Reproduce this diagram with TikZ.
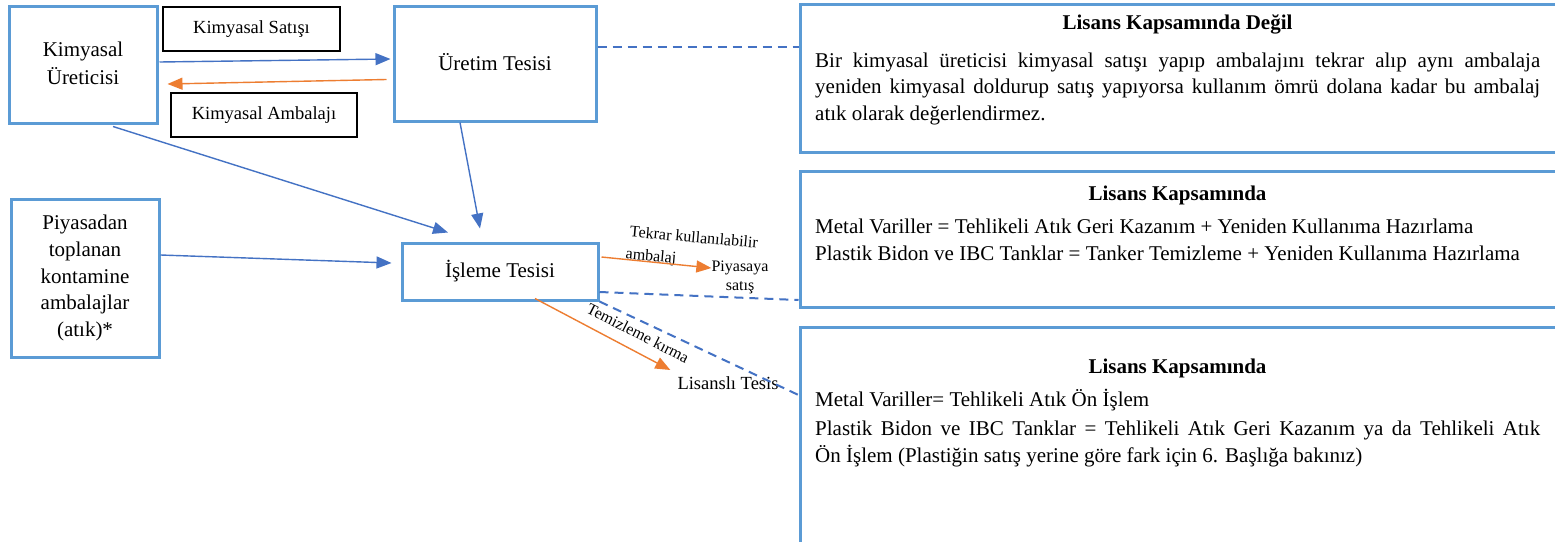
\documentclass[tikz,border=0pt]{standalone}
\usepackage{fontspec}
\setmainfont{Liberation Serif}
\usetikzlibrary{arrows.meta}
\definecolor{boxblue}{HTML}{5B9BD5}
\definecolor{arrblue}{HTML}{4472C4}
\definecolor{arrorange}{HTML}{ED7D31}
\newcommand{\bigfnt}{\fontsize{21}{26.7}\selectfont}
\newcommand{\labfnt}{\fontsize{18.5}{22}\selectfont}
\newcommand{\smfnt}{\fontsize{16}{19}\selectfont}
\newcommand{\rfnt}{\fontsize{21}{26.5}\selectfont}
\newcommand{\jline}[1]{\makebox[725pt][s]{#1}}
\begin{document}
\begin{tikzpicture}[x=1pt,y=-1pt,
  bluebox/.style={draw=boxblue, line width=3pt, inner sep=0pt, align=center, font=\bigfnt},
  labelbox/.style={draw=black, line width=1.2pt, inner sep=0pt, font=\labfnt},
  rbox/.style={draw=boxblue, line width=3pt, inner sep=0pt},
  barrow/.style={draw=arrblue, line width=1.4pt, -{Triangle[length=15pt,width=12pt]}},
  oarrow/.style={draw=arrorange, line width=1.4pt, -{Triangle[length=15pt,width=12pt]}},
  dline/.style={draw=arrblue, line width=2pt, dash pattern=on 9pt off 6pt},
  smalltxt/.style={font=\smfnt, inner sep=0pt, align=center},
  titletxt/.style={font=\rfnt\bfseries, inner sep=0pt, anchor=base},
  bodytxt/.style={font=\rfnt, inner sep=0pt, anchor=base west}]
\path[use as bounding box] (0,0) rectangle (1555,541);
\clip (0,0) rectangle (1555,541);
\fill[white] (0,0) rectangle (1555,541);

% left nodes
\node[bluebox, minimum width=148pt, minimum height=117pt] (A) at (83,64.5) {\raisebox{3pt}{\shortstack{Kimyasal\\[3.5pt]Üreticisi}}};
\node[bluebox, minimum width=202pt, minimum height=115pt] (B) at (495,63.5) {\raisebox{3pt}{Üretim Tesisi}};
\node[bluebox, minimum width=148pt, minimum height=158pt] (C) at (85,278) {Piyasadan\\toplanan\\kontamine\\ambalajlar\\(atık)*};
\node[bluebox, minimum width=196pt, minimum height=57pt] (D) at (500,271.5) {\raisebox{3pt}{İşleme Tesisi}};

\node[labelbox, minimum width=177pt, minimum height=44pt] (S) at (251.5,29) {Kimyasal Satışı};
\node[labelbox, minimum width=186pt, minimum height=44pt] (M) at (264,115) {Kimyasal Ambalajı};

% right boxes
\node[rbox, minimum width=760pt, minimum height=148pt] (R1) at (1180,78) {};
\node[rbox, minimum width=760pt, minimum height=136pt] (R2) at (1180,239) {};
\node[rbox, minimum width=760pt, minimum height=253pt] (R3) at (1180,453.5) {};

\node[titletxt] (T1) at (1177.5,29) {Lisans Kapsamında Değil};
\node[bodytxt] (L11) at (815,67) {\jline{Bir kimyasal üreticisi kimyasal satışı yapıp ambalajını tekrar alıp aynı ambalaja}};
\node[bodytxt] (L12) at (815,93.5) {\jline{yeniden kimyasal doldurup satış yapıyorsa kullanım ömrü dolana kadar bu ambalaj}};
\node[bodytxt] (L13) at (815,120) {atık olarak değerlendirmez.};

\node[titletxt] (T2) at (1177.5,200) {Lisans Kapsamında};
\node[bodytxt] (L21) at (815,233) {Metal Variller = Tehlikeli Atık Geri Kazanım + Yeniden Kullanıma Hazırlama};
\node[bodytxt] (L22) at (815,260) {Plastik Bidon ve IBC Tanklar = Tanker Temizleme + Yeniden Kullanıma Hazırlama};

\node[titletxt] (T3) at (1177.5,373) {Lisans Kapsamında};
\node[bodytxt] (L31) at (815,406) {Metal Variller= Tehlikeli Atık Ön İşlem};
\node[bodytxt] (L32) at (815,435) {\jline{Plastik Bidon ve IBC Tanklar = Tehlikeli Atık Geri Kazanım ya da Tehlikeli Atık}};
\node[bodytxt] (L33) at (815,462) {Ön İşlem (Plastiğin satış yerine göre fark için 6. Başlığa bakınız)};

% small labels
\node[smalltxt, rotate=-5] (K1) at (694,237) {Tekrar kullanılabilir};
\node[smalltxt, rotate=-5] (K2) at (651,257) {ambalaj};
\node[smalltxt] (P) at (740,277) {Piyasaya\\satış};
\node[smalltxt, rotate=-27] (K3) at (638,333) {Temizleme kırma};
\node[font=\labfnt, inner sep=0pt] (LT) at (728,383) {Lisanslı Tesis};

% arrows
\draw[barrow] ([shift={(1,-2.5)}]A.east) -- ([shift={(-2,-4.5)}]B.west);
\draw[oarrow] ([shift={(-6,16)}]B.west) -- ([shift={(9,19.5)}]A.east);
\draw[barrow] ([shift={(30,2)}]A.south) -- ([shift={(-52,-9)}]D.north);
\draw[barrow] ([shift={(-35,0)}]B.south) -- ([shift={(-20,-13)}]D.north);
\draw[barrow] ([shift={(0,-23)}]C.east) -- ([shift={(-9,-8.5)}]D.west);
\draw[oarrow] ([shift={(2,-14.5)}]D.east) -- ([shift={(0,-9)}]P.west);
\draw[oarrow] ([shift={(35,-3)}]D.south) -- ([shift={(-7,-13)}]LT.west);

% dashed connectors
\draw[dline] ([shift={(0,-16.5)}]B.east) -- ([shift={(0,-31)}]R1.west);
\draw[dline] ([shift={(0,20.5)}]D.east) -- ([shift={(0,61)}]R2.west);
\draw[dline] (D.south east) -- ([shift={(0,-58.5)}]R3.west);
\end{tikzpicture}
\end{document}
